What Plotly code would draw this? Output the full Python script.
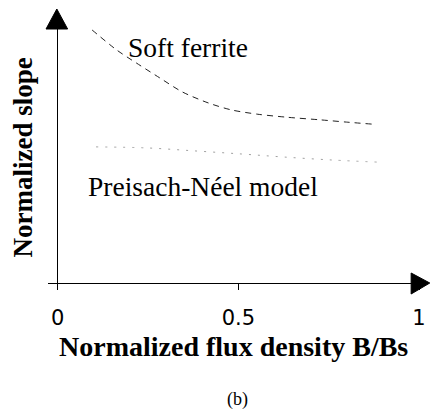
import plotly.graph_objects as go

# ---- data ----
ferrite_x = [0.095, 0.163, 0.217, 0.283, 0.345, 0.418, 0.481, 0.554, 0.636, 0.726, 0.799, 0.870]
ferrite_y = [1.000, 0.921, 0.870, 0.810, 0.755, 0.711, 0.684, 0.667, 0.655, 0.645, 0.636, 0.628]

preisach_x = [0.106, 0.245, 0.380, 0.508, 0.625, 0.761, 0.883]
preisach_y = [0.538, 0.534, 0.522, 0.510, 0.498, 0.486, 0.478]

x_tick_vals = [0, 0.5, 1]
x_tick_text = ["0", "0.5", "1"]

W, H = 431, 410
L, R, T, B = 48, 5, 20, 127
PW, PH = W - L - R, H - T - B


def px_x(p):
    return (p - L) / PW


def px_y(p):
    return (H - B - p) / PH


fig = go.Figure()
fig.add_trace(go.Scatter(x=ferrite_x, y=ferrite_y, mode="lines", line_shape="spline",
                         line=dict(color="#222222", width=1, dash="6px,5px", smoothing=0.8),
                         showlegend=False, hoverinfo="skip"))
fig.add_trace(go.Scatter(x=preisach_x, y=preisach_y, mode="lines", line_shape="spline",
                         line=dict(color="#a0a0a0", width=1, dash="2px,7px"),
                         showlegend=False, hoverinfo="skip"))

serif = "Liberation Serif, Times New Roman, serif"

annotations = [
    dict(text="Soft ferrite", x=0.190, y=0.929, xref="x", yref="y", xanchor="left", yanchor="middle",
         showarrow=False, font=dict(family=serif, size=27.5, color="black")),
    dict(text="Preisach-Néel model", x=0.079, y=0.383, xref="x", yref="y", xanchor="left", yanchor="middle",
         showarrow=False, font=dict(family=serif, size=27.5, color="black")),
    dict(text="Normalized flux density B/Bs", x=px_x(237.5), y=px_y(346), xref="paper", yref="paper",
         xanchor="center", yanchor="middle", showarrow=False,
         font=dict(family=serif, size=28, color="black", weight="bold")),
    dict(text="Normalized slope", x=px_x(23), y=px_y(157), xref="paper", yref="paper", textangle=-90,
         xanchor="center", yanchor="middle", showarrow=False,
         font=dict(family=serif, size=27, color="black", weight="bold")),
    dict(text="(b)", x=px_x(241), y=px_y(399), xref="paper", yref="paper",
         xanchor="center", yanchor="middle", showarrow=False,
         font=dict(family=serif, size=18, color="black")),
]

shapes = [
    # arrowhead of vertical axis
    dict(type="path", xref="paper", yref="paper",
         path=f"M {px_x(46)} {px_y(29)} L {px_x(57)} {px_y(9)} L {px_x(68)} {px_y(29)} Z",
         fillcolor="black", line=dict(color="black", width=1)),
    # arrowhead of horizontal axis
    dict(type="path", xref="paper", yref="paper",
         path=f"M {px_x(418)} {px_y(273)} L {px_x(437)} {px_y(283)} L {px_x(418)} {px_y(294)} Z",
         fillcolor="black", line=dict(color="black", width=1)),
]

fig.update_layout(
    width=W, height=H,
    margin=dict(l=L, r=R, t=T, b=B),
    paper_bgcolor="white", plot_bgcolor="white",
    annotations=annotations, shapes=shapes,
    xaxis=dict(range=[-10 / 368, 1.0], showgrid=False, zeroline=True, zerolinecolor="black", zerolinewidth=1,
               showline=True, linecolor="black", linewidth=1,
               ticks="outside", ticklen=6, tickcolor="black", tickwidth=1,
               tickvals=x_tick_vals, ticktext=x_tick_text, ticklabelstandoff=10,
               ticklabeloverflow="allow",
               tickfont=dict(family="DejaVu Sans", size=21, color="black")),
    yaxis=dict(range=[0, PH / 253], showgrid=False, zeroline=False, showline=False,
               showticklabels=False, ticks=""),
)

fig.write_html("out.html", config={"displayModeBar": False},
               post_script="document.body.style.margin='0';document.body.style.overflow='hidden';")
